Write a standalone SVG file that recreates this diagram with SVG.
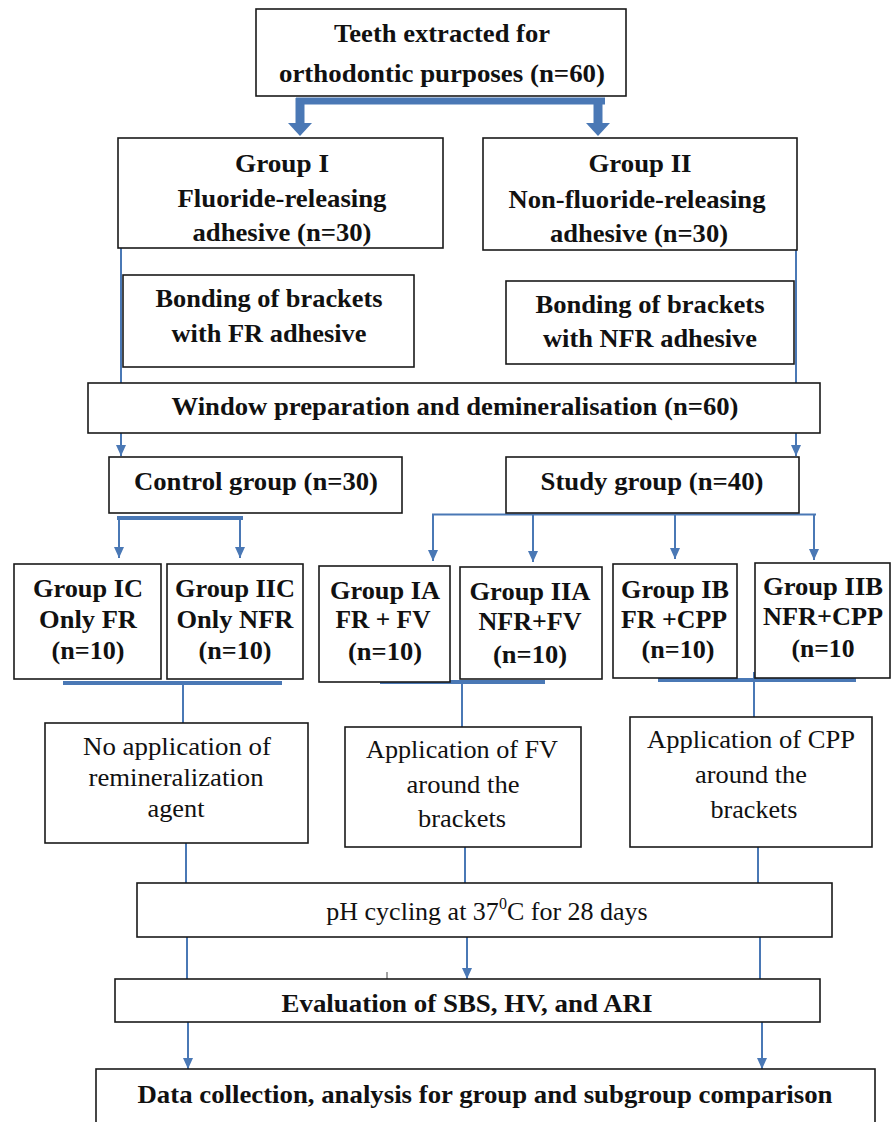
<svg xmlns="http://www.w3.org/2000/svg" width="891" height="1122" viewBox="0 0 891 1122">
<style>
.box{fill:#fff;stroke:#1a1a1a;stroke-width:1.6}
.b{font-family:"Liberation Serif","Times New Roman",serif;font-weight:bold;font-size:25px;fill:#111;text-anchor:middle}
.r{font-family:"Liberation Serif","Times New Roman",serif;font-size:26px;fill:#111;text-anchor:middle}
.ln{stroke:#4a78b5;stroke-width:2;fill:none}
.thk{stroke:#4a78b5;stroke-width:4;fill:none}
.ar{stroke:#4a78b5;stroke-width:2;fill:none;marker-end:url(#ah)}
</style>
<defs>
<marker id="ah" viewBox="0 0 11 10" refX="11" refY="5" markerWidth="11" markerHeight="10" markerUnits="userSpaceOnUse" orient="auto">
<path d="M0,0 L11,5 L0,10 z" fill="#4a78b5"/>
</marker>
</defs>
<rect width="891" height="1122" fill="#fff"/>

<g id="connectors">
<path d="M296,101 L605,101" stroke="#4a78b5" stroke-width="7" fill="none"/>
<path d="M300,98 L300,124" stroke="#4a78b5" stroke-width="9" fill="none"/>
<path d="M598,98 L598,124" stroke="#4a78b5" stroke-width="9" fill="none"/>
<path d="M288,123 L312,123 L300,136 z" fill="#4a78b5"/>
<path d="M586,123 L610,123 L598,136 z" fill="#4a78b5"/>
<path class="ln" d="M121,248 L121,383"/>
<path class="ar" d="M121,433 L121,456"/>
<path class="ln" d="M796,246 L796,383"/>
<path class="ar" d="M796,433 L796,456"/>
<path class="thk" d="M117,518 L243,518"/>
<path class="ar" d="M119,518 L119,558"/>
<path class="ar" d="M240,518 L240,558"/>
<path class="ln" d="M432,514.5 L816,514.5" stroke-width="2.6"/>
<path class="ar" d="M433,514 L433,561"/>
<path class="ar" d="M533,514 L533,562"/>
<path class="ar" d="M675,514 L675,559"/>
<path class="ar" d="M814,514 L814,560"/>
<path class="thk" d="M63,683 L282,683"/>
<path class="ln" d="M183,683 L183,723"/>
<path class="thk" d="M380,682 L545,682"/>
<path class="ln" d="M462,682 L462,727"/>
<path class="thk" d="M658,680 L856,680"/>
<path class="ln" d="M754,672 L754,717"/>
<path class="ln" d="M186,843 L186,883"/>
<path class="ln" d="M465,847 L465,883"/>
<path class="ln" d="M758,847 L758,883"/>
<path class="ln" d="M187,937 L187,979"/>
<path class="ar" d="M467,937 L467,979"/>
<path class="ln" d="M760,937 L760,979"/>
<path d="M387,972 L387,979" stroke="#444" stroke-width="1"/>
<path class="ar" d="M188,1022 L188,1069"/>
<path class="ar" d="M762,1022 L762,1069"/>
</g>

<g id="top">
<rect class="box" x="256" y="9" width="370" height="87"/>
<text class="b" x="442" y="42" font-size="26" textLength="216" lengthAdjust="spacingAndGlyphs">Teeth extracted for</text>
<text class="b" x="442" y="82" font-size="26" textLength="326" lengthAdjust="spacingAndGlyphs">orthodontic purposes (n=60)</text>
</g>

<g id="group1">
<rect class="box" x="118" y="138" width="325" height="110"/>
<text class="b" x="282" y="172" textLength="94" lengthAdjust="spacingAndGlyphs">Group I</text>
<text class="b" x="282" y="207" textLength="209" lengthAdjust="spacingAndGlyphs">Fluoride-releasing</text>
<text class="b" x="282" y="241" textLength="179" lengthAdjust="spacingAndGlyphs">adhesive (n=30)</text>
</g>

<g id="group2">
<rect class="box" x="483" y="138" width="314" height="112"/>
<text class="b" x="640" y="172" textLength="103" lengthAdjust="spacingAndGlyphs">Group II</text>
<text class="b" x="637" y="208" textLength="257" lengthAdjust="spacingAndGlyphs">Non-fluoride-releasing</text>
<text class="b" x="639" y="242" textLength="178" lengthAdjust="spacingAndGlyphs">adhesive (n=30)</text>
</g>

<g id="bond1">
<rect class="box" x="123" y="275" width="291" height="92"/>
<text class="b" x="269" y="307" textLength="227" lengthAdjust="spacingAndGlyphs">Bonding of brackets</text>
<text class="b" x="269" y="342" textLength="195" lengthAdjust="spacingAndGlyphs">with FR adhesive</text>
</g>

<g id="bond2">
<rect class="box" x="506" y="281" width="288" height="83"/>
<text class="b" x="650" y="313" textLength="229" lengthAdjust="spacingAndGlyphs">Bonding of brackets</text>
<text class="b" x="650" y="347" textLength="214" lengthAdjust="spacingAndGlyphs">with NFR adhesive</text>
</g>

<g id="window">
<rect class="box" x="88" y="383" width="732" height="50"/>
<text class="b" x="455" y="415" textLength="567" lengthAdjust="spacingAndGlyphs">Window preparation and demineralisation (n=60)</text>
</g>

<g id="control">
<rect class="box" x="109" y="457" width="293" height="56"/>
<text class="b" x="256" y="490" textLength="244" lengthAdjust="spacingAndGlyphs">Control group (n=30)</text>
</g>

<g id="study">
<rect class="box" x="506" y="457" width="293" height="56"/>
<text class="b" x="652" y="490" textLength="223" lengthAdjust="spacingAndGlyphs">Study group (n=40)</text>
</g>

<g id="gIC">
<rect class="box" x="14" y="564" width="147" height="115"/>
<text class="b" x="88" y="597" textLength="110" lengthAdjust="spacingAndGlyphs">Group IC</text>
<text class="b" x="88" y="628" textLength="98" lengthAdjust="spacingAndGlyphs">Only FR</text>
<text class="b" x="88" y="659" textLength="73" lengthAdjust="spacingAndGlyphs">(n=10)</text>
</g>

<g id="gIIC">
<rect class="box" x="167" y="564" width="136" height="115"/>
<text class="b" x="235" y="597" textLength="120" lengthAdjust="spacingAndGlyphs">Group IIC</text>
<text class="b" x="235" y="628" textLength="117" lengthAdjust="spacingAndGlyphs">Only NFR</text>
<text class="b" x="235" y="659" textLength="73" lengthAdjust="spacingAndGlyphs">(n=10)</text>
</g>

<g id="gIA">
<rect class="box" x="319" y="566" width="131" height="116"/>
<text class="b" x="385" y="599" textLength="110" lengthAdjust="spacingAndGlyphs">Group IA</text>
<text class="b" x="383" y="628" textLength="95" lengthAdjust="spacingAndGlyphs">FR + FV</text>
<text class="b" x="385" y="660" textLength="74" lengthAdjust="spacingAndGlyphs">(n=10)</text>
</g>

<g id="gIIA">
<rect class="box" x="460" y="567" width="142" height="112"/>
<text class="b" x="530" y="600" textLength="121" lengthAdjust="spacingAndGlyphs">Group IIA</text>
<text class="b" x="530" y="630" textLength="103" lengthAdjust="spacingAndGlyphs">NFR+FV</text>
<text class="b" x="530" y="663" textLength="74" lengthAdjust="spacingAndGlyphs">(n=10)</text>
</g>

<g id="gIB">
<rect class="box" x="613" y="564" width="124" height="114"/>
<text class="b" x="675" y="598" textLength="108" lengthAdjust="spacingAndGlyphs">Group IB</text>
<text class="b" x="674" y="628" textLength="106" lengthAdjust="spacingAndGlyphs">FR +CPP</text>
<text class="b" x="678" y="658" textLength="73" lengthAdjust="spacingAndGlyphs">(n=10)</text>
</g>

<g id="gIIB">
<rect class="box" x="755" y="563" width="135" height="115"/>
<text class="b" x="823" y="595" textLength="120" lengthAdjust="spacingAndGlyphs">Group IIB</text>
<text class="b" x="823" y="625" textLength="120" lengthAdjust="spacingAndGlyphs">NFR+CPP</text>
<text class="b" x="823" y="657" textLength="63" lengthAdjust="spacingAndGlyphs">(n=10</text>
</g>

<g id="noapp">
<rect class="box" x="45" y="723" width="263" height="120"/>
<text class="r" x="177" y="755" textLength="188" lengthAdjust="spacingAndGlyphs">No application of</text>
<text class="r" x="176" y="786" textLength="175" lengthAdjust="spacingAndGlyphs">remineralization</text>
<text class="r" x="176" y="817" textLength="57" lengthAdjust="spacingAndGlyphs">agent</text>
</g>

<g id="fv">
<rect class="box" x="345" y="727" width="236" height="120"/>
<text class="r" x="462" y="758" textLength="192" lengthAdjust="spacingAndGlyphs">Application of FV</text>
<text class="r" x="463" y="793" textLength="113" lengthAdjust="spacingAndGlyphs">around the</text>
<text class="r" x="462" y="827" textLength="88" lengthAdjust="spacingAndGlyphs">brackets</text>
</g>

<g id="cpp">
<rect class="box" x="630" y="717" width="242" height="130"/>
<text class="r" x="751" y="748" textLength="208" lengthAdjust="spacingAndGlyphs">Application of CPP</text>
<text class="r" x="751" y="783" textLength="112" lengthAdjust="spacingAndGlyphs">around the</text>
<text class="r" x="754" y="818" textLength="87" lengthAdjust="spacingAndGlyphs">brackets</text>
</g>

<g id="ph">
<rect class="box" x="137" y="883" width="695" height="54"/>
<text class="r" x="487" y="920">pH cycling at 37<tspan font-size="16" dy="-11">0</tspan><tspan dy="11">C for 28 days</tspan></text>
</g>

<g id="eval">
<rect class="box" x="115" y="979" width="705" height="43"/>
<text class="b" x="467" y="1012" textLength="371" lengthAdjust="spacingAndGlyphs">Evaluation of SBS, HV, and ARI</text>
</g>

<g id="data">
<rect class="box" x="96" y="1069" width="779" height="70"/>
<text class="b" x="485" y="1103" textLength="695" lengthAdjust="spacingAndGlyphs">Data collection, analysis for group and subgroup comparison</text>
</g>
</svg>
